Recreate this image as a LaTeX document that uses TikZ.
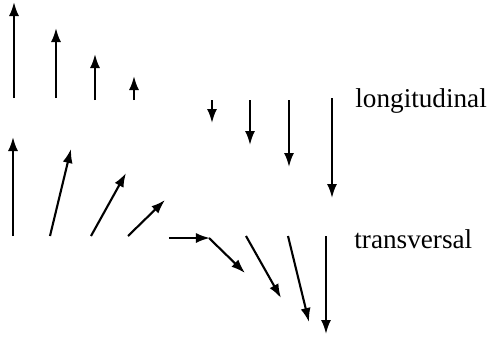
\documentclass[tikz,border=0pt]{standalone}
\usepackage{fontspec}
\setmainfont{Liberation Serif}
\usetikzlibrary{arrows.meta}
\tikzset{
  wave/.style={line width=1.05pt, -{Latex[length=7pt,width=5pt]}},
  label/.style={inner sep=0pt, anchor=base west, font=\fontsize{13.6}{16}\selectfont}
}
\begin{document}
\begin{tikzpicture}[x=0.5pt, y=-0.5pt]
\useasboundingbox (0,0) rectangle (489,339);
% longitudinal
\coordinate (lb1) at (14,98);  \coordinate (lt1) at (14,2);
\coordinate (lb2) at (56,98);  \coordinate (lt2) at (56,28);
\coordinate (lb3) at (95,100); \coordinate (lt3) at (95,54);
\coordinate (lb4) at (134,100);\coordinate (lt4) at (134,76);
\coordinate (lb5) at (212,100);\coordinate (lt5) at (212,123);
\coordinate (lb6) at (250,100);\coordinate (lt6) at (250,145);
\coordinate (lb7) at (289,100);\coordinate (lt7) at (289,167);
\coordinate (lb8) at (332,98); \coordinate (lt8) at (332,198);
\foreach \i in {1,...,8}
  \draw[wave] (lb\i) -- (lt\i);
\node[label] (long) at (355,107) {longitudinal};
% transversal
\coordinate (tb1) at (13,236);  \coordinate (tt1) at (13,137);
\coordinate (tb2) at (50,236);  \coordinate (tt2) at (71,149);
\coordinate (tb3) at (91,236);  \coordinate (tt3) at (126,173);
\coordinate (tb4) at (128,236); \coordinate (tt4) at (165,200);
\coordinate (tb5) at (169,238); \coordinate (tt5) at (210,238);
\coordinate (tb6) at (209,238); \coordinate (tt6) at (245,273);
\coordinate (tb7) at (246,236); \coordinate (tt7) at (281,298);
\coordinate (tb8) at (288,236); \coordinate (tt8) at (309,322);
\coordinate (tb9) at (326,236); \coordinate (tt9) at (326,334);
\foreach \i in {1,...,9}
  \draw[wave] (tb\i) -- (tt\i);
\node[label] (trans) at (354,248) {transversal};
\end{tikzpicture}
\end{document}
